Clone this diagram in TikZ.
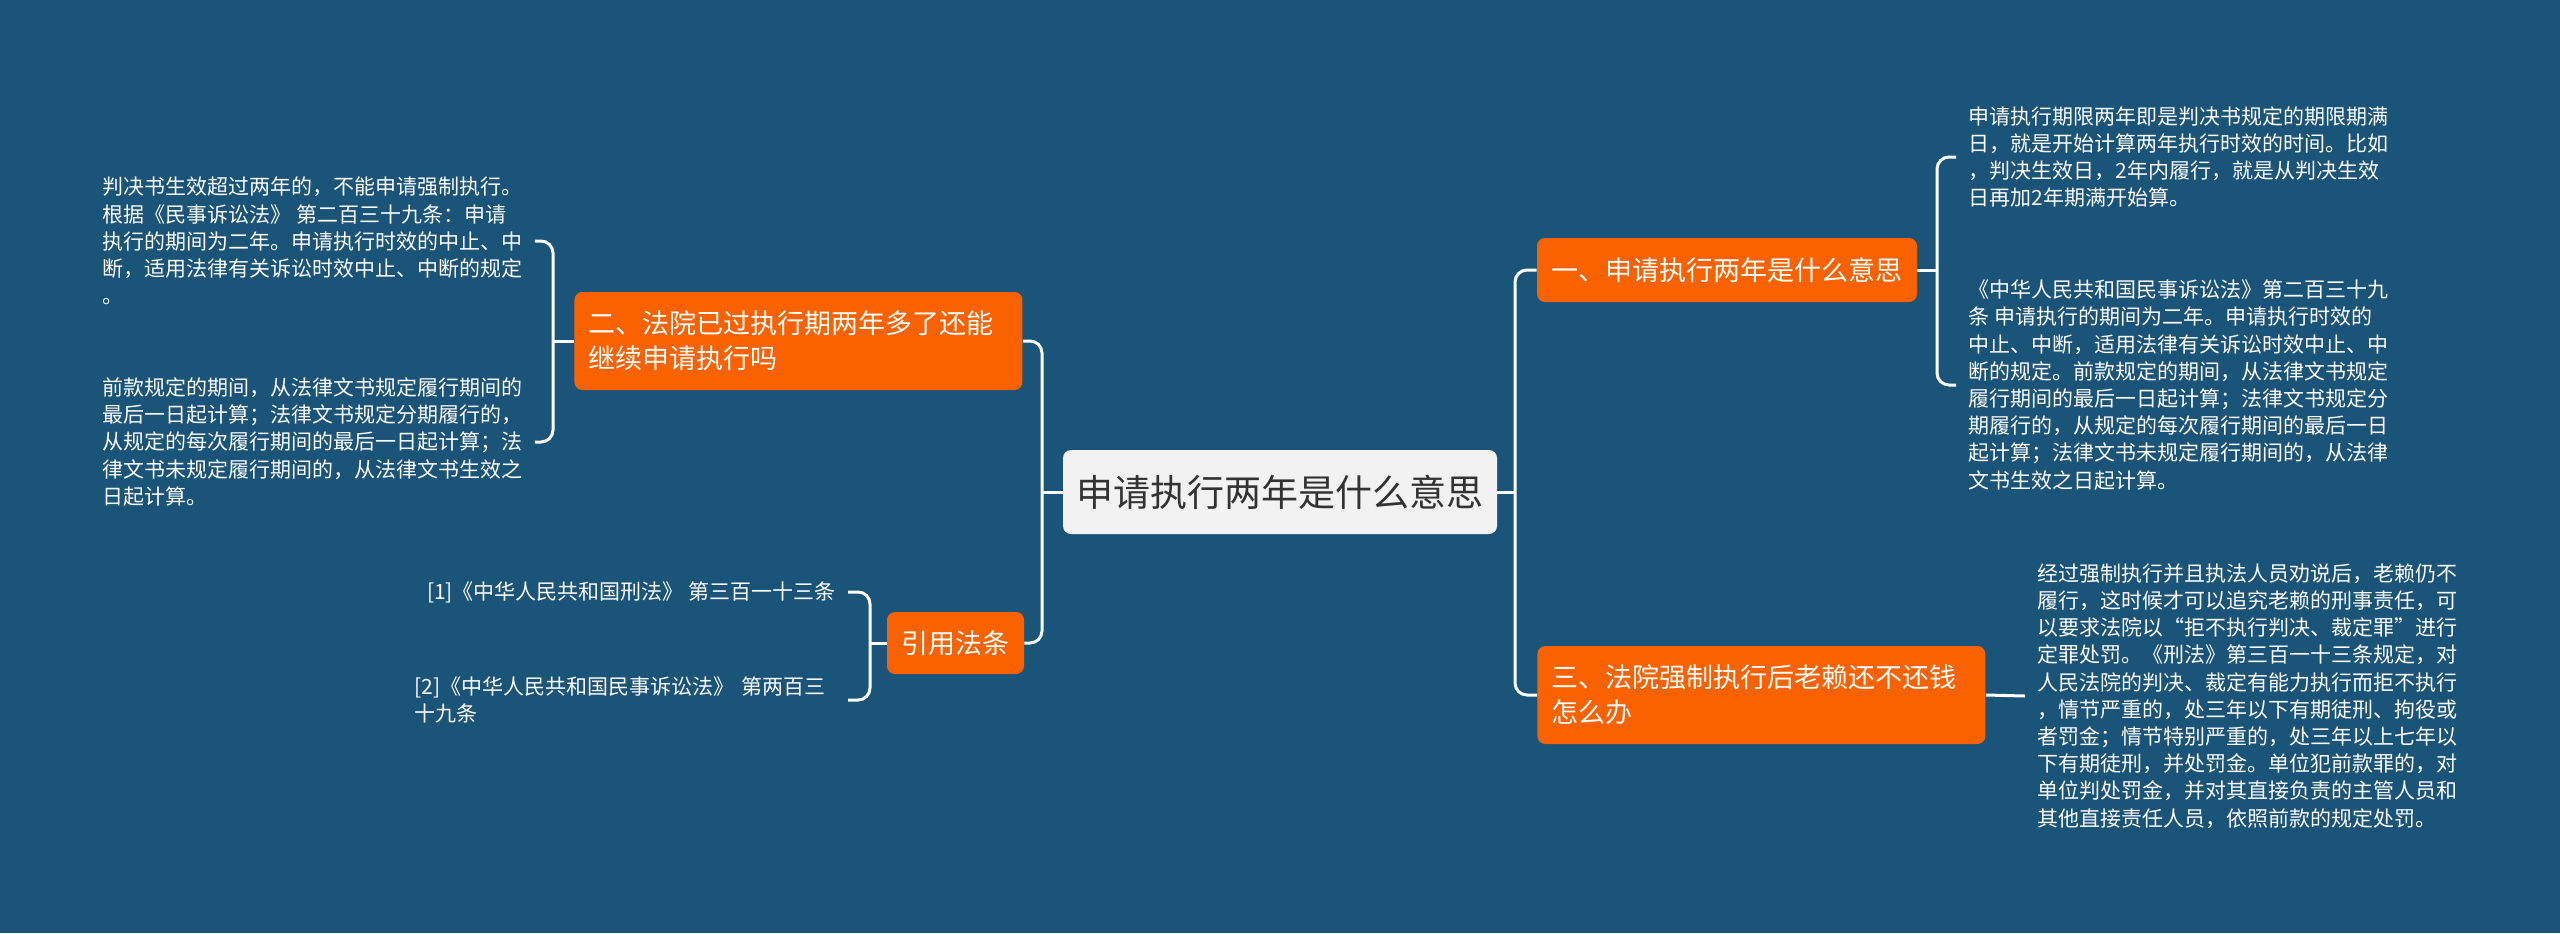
\documentclass[tikz,border=0pt]{standalone}
\usepackage{fontspec}
\setmainfont{Noto Sans CJK SC}
\usetikzlibrary{positioning,calc}
\definecolor{deepblue}{HTML}{1B5479}
\definecolor{brightorange}{HTML}{FA6200}
\definecolor{paleground}{HTML}{F2F2F2}
\definecolor{darktext}{HTML}{333333}

\begin{document}
\begin{tikzpicture}[x=0.5pt, y=-0.5pt,
    rootbox/.style={fill=paleground, rounded corners=4pt, text=darktext,
        minimum width=217pt, minimum height=42pt,
        font=\fontsize{18.5pt}{23pt}\selectfont},
    topicbox/.style={fill=brightorange, rounded corners=4pt, text=white,
        align=left, inner xsep=7pt,
        font=\fontsize{13.5pt}{17.5pt}\selectfont},
    leafnote/.style={text=white, align=left, inner xsep=6pt, inner ysep=0pt,
        font=\fontsize{10.5pt}{13.6pt}\selectfont},
    link/.style={draw=white, line width=1.5pt, rounded corners=6pt}]
  % background
  \fill[deepblue] (0,0) rectangle (2560,933);
  \useasboundingbox (0,0) rectangle (2560,933);

  % main topics
  \node[rootbox] (root) at (1280,492) {申请执行两年是什么意思};
  \node[topicbox, minimum width=190pt, minimum height=32pt] (b1) at (1727,270)
      {一、申请执行两年是什么意思};
  \node[topicbox, text width=210pt, minimum height=49pt, anchor=west] (b2) at (574,341)
      {二、法院已过执行期两年多了还能\\继续申请执行吗};
  \node[topicbox, text width=210pt, minimum height=49pt, anchor=west] (b3) at (1537,695)
      {三、法院强制执行后老赖还不还钱\\怎么办};
  \node[topicbox, minimum width=68.5pt, minimum height=31pt] (b4) at (955.5,643)
      {引用法条};

  % notes
  \node[leafnote, anchor=west] (n11) at (1956,157)
      {申请执行期限两年即是判决书规定的期限期满\\
       日，就是开始计算两年执行时效的时间。比如\\
       ，判决生效日，2年内履行，就是从判决生效\\
       日再加2年期满开始算。};
  \node[leafnote, anchor=west] (n12) at (1956,385)
      {《中华人民共和国民事诉讼法》第二百三十九\\
       条 申请执行的期间为二年。申请执行时效的\\
       中止、中断，适用法律有关诉讼时效中止、中\\
       断的规定。前款规定的期间，从法律文书规定\\
       履行期间的最后一日起计算；法律文书规定分\\
       期履行的，从规定的每次履行期间的最后一日\\
       起计算；法律文书未规定履行期间的，从法律\\
       文书生效之日起计算。};
  \node[leafnote, anchor=west] (n21) at (90,241)
      {判决书生效超过两年的，不能申请强制执行。\\
       根据《民事诉讼法》 第二百三十九条：申请\\
       执行的期间为二年。申请执行时效的中止、中\\
       断，适用法律有关诉讼时效中止、中断的规定\\
       。};
  \node[leafnote, anchor=west] (n22) at (90,442)
      {前款规定的期间，从法律文书规定履行期间的\\
       最后一日起计算；法律文书规定分期履行的，\\
       从规定的每次履行期间的最后一日起计算；法\\
       律文书未规定履行期间的，从法律文书生效之\\
       日起计算。};
  \node[leafnote, anchor=west] (n31) at (2025,696)
      {经过强制执行并且执法人员劝说后，老赖仍不\\
       履行，这时候才可以追究老赖的刑事责任，可\\
       以要求法院以“拒不执行判决、裁定罪”进行\\
       定罪处罚。《刑法》第三百一十三条规定，对\\
       人民法院的判决、裁定有能力执行而拒不执行\\
       ，情节严重的，处三年以下有期徒刑、拘役或\\
       者罚金；情节特别严重的，处三年以上七年以\\
       下有期徒刑，并处罚金。单位犯前款罪的，对\\
       单位判处罚金，并对其直接负责的主管人员和\\
       其他直接责任人员，依照前款的规定处罚。};
  \node[leafnote, anchor=east] (r1) at (848,592)
      {[1]《中华人民共和国刑法》 第三百一十三条};
  \node[leafnote, anchor=east, text width=210.5pt] (r2) at (848,700)
      {[2]《中华人民共和国民事诉讼法》 第两百三\\十九条};

  % connectors
  \coordinate (ljoint) at (1042,492);
  \coordinate (rjoint) at (1515,492);
  \draw[link] (root.west) -- (ljoint);
  \draw[link] (root.east) -- (rjoint);
  \draw[link] (b2.east) -| (ljoint) |- (b4.east);
  \draw[link] (b1.west) -| (rjoint) |- (b3.west);

  \coordinate (j1) at (1937,270);
  \draw[link] (b1.east) -- (j1);
  \draw[link] (n11.west) -| (j1) |- (n12.west);
  \coordinate (j2) at (553,341);
  \draw[link] (b2.west) -- (j2);
  \draw[link] (n21.east) -| (j2) |- (n22.east);
  \coordinate (j4) at (870,643);
  \draw[link] (b4.west) -- (j4);
  \draw[link] (r1.east) -| (j4) |- (r2.east);
  \draw[link] (b3.east) -- (n31.west);
\end{tikzpicture}
\end{document}
